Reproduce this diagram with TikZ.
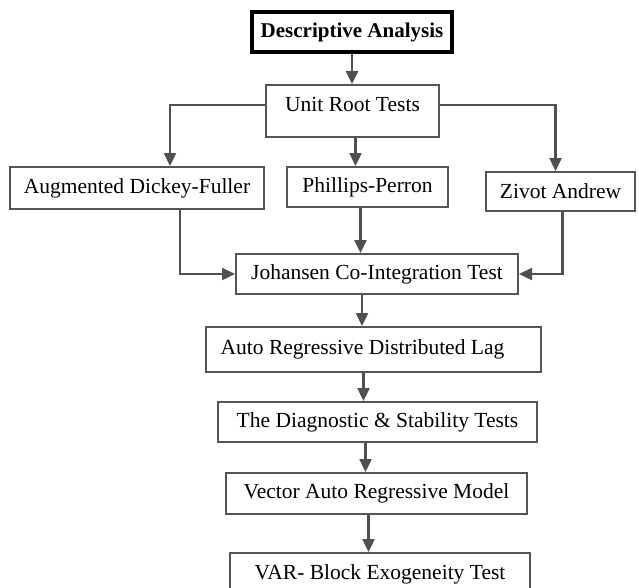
\documentclass[tikz,border=0pt]{standalone}
\usepackage{fontspec}
\setmainfont{Liberation Serif}
\usepackage{xcolor}
\definecolor{boxgray}{HTML}{555555}
\definecolor{linegray}{HTML}{505050}
\usetikzlibrary{positioning, calc, arrows.meta}

\begin{document}
\begin{tikzpicture}[x=1pt, y=-1pt,
    box/.style={draw=boxgray, line width=2pt, fill=white, inner sep=0pt,
        font=\fontsize{21.5}{25}\selectfont},
    flow/.style={draw=linegray, line width=2.4pt,
        -{Triangle[length=13pt, width=12pt]}}]

    % Page frame
    \useasboundingbox (0,0) rectangle (639,587);
    \clip (0,0) rectangle (639,587);

    % Top box: descriptive analysis
    \node[box, draw=black, line width=4pt, minimum width=200pt, minimum height=40pt,
          font=\fontsize{21}{25}\selectfont\bfseries] (desc) at (352,32) {Descriptive Analysis};

    % Unit root tests and its three branches
    \node[box, minimum width=173pt, minimum height=52pt, text depth=13pt] (unit) at (352.5,111) {Unit Root Tests};
    \node[box, minimum width=254pt, minimum height=42pt] (adf) at (137,188) {Augmented Dickey-Fuller};
    \node[box, minimum width=161pt, minimum height=40pt] (pp) at (367.5,187) {Phillips-Perron};
    \node[box, minimum width=149pt, minimum height=39pt] (za) at (560.5,191.5) {Zivot Andrew};

    % Main column below
    \node[box, minimum width=282pt, minimum height=40pt] (joh) at (377,274) {Johansen Co-Integration Test};
    \node[box, minimum width=335pt, minimum height=45pt] (ardl) at (373.5,349.5) {Auto Regressive Distributed Lag\hspace*{22pt}};
    \node[box, minimum width=319pt, minimum height=40pt] (diag) at (377.5,422) {The Diagnostic \& Stability Tests};
    \node[box, minimum width=301pt, minimum height=41pt] (var) at (376.5,493.5) {Vector Auto Regressive Model};
    \node[box, minimum width=300pt, minimum height=42pt] (block) at (380,574) {VAR- Block Exogeneity Test};

    % Arrows from the top
    \draw[flow] (desc.south) -- (desc.south |- unit.north);
    \draw[flow] ([yshift=6pt]unit.west) -| ([xshift=33pt]adf.north);
    \draw[flow] ([xshift=3pt]unit.south) -- ([xshift=3pt]unit.south |- pp.north);
    \draw[flow] ([yshift=6pt]unit.east) -| ([xshift=-5pt]za.north);

    % Tests into Johansen
    \draw[flow] ([xshift=43pt]adf.south) |- (joh.west);
    \draw[flow] ([xshift=-7pt]pp.south) -- ([xshift=-7pt]pp.south |- joh.north);
    \draw[flow] ([xshift=2pt]za.south) |- (joh.east);

    % Down the column
    \draw[flow] ([xshift=-15pt]joh.south) -- ([xshift=-15pt]joh.south |- ardl.north);
    \draw[flow] ([xshift=-10pt]ardl.south) -- ([xshift=-10pt]ardl.south |- diag.north);
    \draw[flow] ([xshift=-12pt]diag.south) -- ([xshift=-12pt]diag.south |- var.north);
    \draw[flow] ([xshift=-8pt]var.south) -- ([xshift=-8pt]var.south |- block.north);

\end{tikzpicture}
\end{document}
